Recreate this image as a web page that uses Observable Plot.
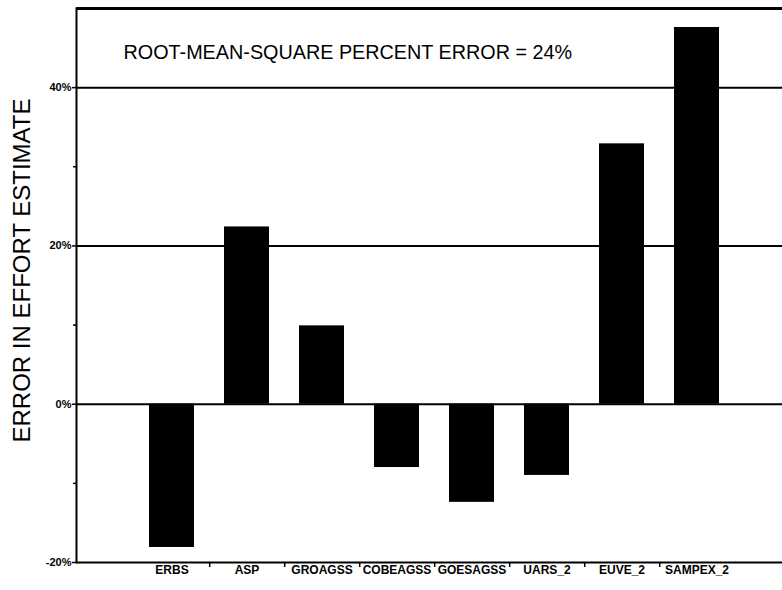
<!DOCTYPE html>
<html>
<head>
<meta charset="utf-8">
<script src="https://cdn.jsdelivr.net/npm/d3@7"></script>
<script src="https://cdn.jsdelivr.net/npm/@observablehq/plot@0.6"></script>
<style>
  html, body { margin: 0; padding: 0; background: #fff; }
  #chart svg { display: block; }
</style>
</head>
<body>
<div id="chart"></div>
<script>
const categories = ["ERBS", "ASP", "GROAGSS", "COBEAGSS", "GOESAGSS", "UARS_2", "EUVE_2", "SAMPEX_2"];
const errors = [-18.1, 22.4, 9.9, -8.0, -12.4, -9.0, 32.9, 47.6];
const majorTicks = [-20, 0, 20, 40];
const minorTicks = [-10, 10, 30];
const gridValues = [0, 20, 40];
const titleText = "ROOT-MEAN-SQUARE PERCENT ERROR = 24%";
const yTitle = "ERROR IN EFFORT ESTIMATE";

const data = categories.map((c, i) => ({category: c, error: errors[i]}));
const font = "'Liberation Sans', Arial, Helvetica, sans-serif";

const chart = Plot.plot({
  width: 782,
  height: 590,
  marginLeft: 76,
  marginRight: 0,
  marginTop: 8,
  marginBottom: 28,
  style: {fontFamily: font, background: "#fff", color: "#000"},
  x: {domain: categories, range: [132, 735], paddingInner: 0.4, paddingOuter: 0.2, label: null},
  y: {domain: [-20, 50], label: null},
  marks: [
    Plot.barY(data, {x: "category", y: "error", fill: "#000"}),
    Plot.ruleY(gridValues, {stroke: "#000", strokeWidth: 2}),
    Plot.ruleY([-20], {stroke: "#000", strokeWidth: 2}),
    Plot.ruleY([50], {stroke: "#000", strokeWidth: 3}),
    Plot.frame({anchor: "left", stroke: "#000", strokeWidth: 2}),
    Plot.axisY(majorTicks, {tickSize: 4, tickPadding: 1, tickFormat: d => d + "%", fontSize: 11, fontWeight: "bold", letterSpacing: "-0.5px", label: null, strokeWidth: 1.5}),
    Plot.axisY(minorTicks, {tickSize: 3, text: null, label: null, strokeWidth: 1.5}),
    Plot.axisX({tickSize: 0, tickPadding: 3, fontSize: 12, fontWeight: "bold", letterSpacing: "-0.3px", label: null}),
    Plot.ruleX(categories.slice(0, -1), {x: d => d, dx: 37.7, y1: -20, y2: -20, insetBottom: -5, stroke: "#000", strokeWidth: 1.5}),
    Plot.text([titleText], {frameAnchor: "top-left", dx: 47, dy: 44, textAnchor: "start", lineAnchor: "middle", fontSize: 19.8, fill: "#000"}),
    Plot.text([yTitle], {frameAnchor: "left", rotate: -90, dx: -54, dy: -15, textAnchor: "middle", fontSize: 24, fill: "#000"})
  ]
});
document.getElementById("chart").appendChild(chart);
</script>
</body>
</html>
